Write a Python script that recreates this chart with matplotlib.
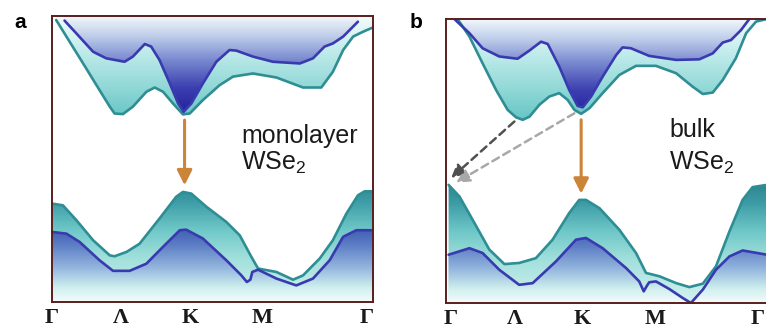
import numpy as np
import matplotlib
matplotlib.use("Agg")
import matplotlib.pyplot as plt
from matplotlib.colors import LinearSegmentedColormap

plt.rcParams["mathtext.fontset"] = "custom"
plt.rcParams["mathtext.rm"] = "Liberation Sans"
plt.rcParams["mathtext.it"] = "Liberation Sans:italic"

# ---------------- data (k along path 0..1, energy in arbitrary units 0..100) ----------------
# panel a: monolayer WSe2
a_cb_teal_k = [0.013, 0.045, 0.097, 0.148, 0.180, 0.195, 0.221, 0.252, 0.294, 0.320, 0.346, 0.377, 0.408,
               0.429, 0.470, 0.522, 0.564, 0.626, 0.699, 0.782, 0.839, 0.875, 0.907, 0.938, 0.969, 1.0]
a_cb_teal_E = [98.6, 92.8, 83.4, 74.1, 68.3, 65.9, 65.7, 68.3, 73.5, 75.0, 73.5, 69.4, 65.6,
               65.9, 70.6, 75.8, 78.8, 79.9, 78.5, 75.0, 75.0, 80.5, 88.1, 92.8, 94.5, 96.0]
a_cb_blue_k = [0.039, 0.076, 0.128, 0.169, 0.226, 0.252, 0.289, 0.309, 0.335, 0.367, 0.393, 0.410, 0.434,
               0.470, 0.512, 0.553, 0.574, 0.626, 0.688, 0.772, 0.813, 0.849, 0.875, 0.907, 0.953]
a_cb_blue_E = [98.4, 93.9, 87.5, 85.2, 84.0, 85.8, 90.2, 89.3, 84.6, 76.4, 69.4, 66.5, 69.4,
               76.4, 84.0, 88.1, 87.9, 85.8, 84.0, 83.4, 85.2, 89.3, 90.4, 92.8, 98.0]
a_vb_teal_k = [0.0, 0.034, 0.076, 0.128, 0.180, 0.195, 0.232, 0.273, 0.335, 0.387, 0.408, 0.434, 0.481,
               0.543, 0.585, 0.621, 0.642, 0.699, 0.751, 0.782, 0.834, 0.875, 0.917, 0.953, 0.974, 1.0]
a_vb_teal_E = [34.4, 33.8, 28.6, 21.6, 16.3, 16.0, 17.5, 20.4, 29.2, 36.8, 38.5, 37.9, 33.3,
               28.0, 23.3, 15.8, 11.7, 10.5, 7.8, 9.3, 15.2, 21.6, 30.9, 37.3, 38.7, 38.7]
a_vb_blue_k = [0.0, 0.045, 0.086, 0.148, 0.190, 0.242, 0.294, 0.346, 0.398, 0.418, 0.470, 0.543, 0.590,
               0.607, 0.618, 0.624, 0.642, 0.699, 0.761, 0.813, 0.865, 0.907, 0.948, 1.0]
a_vb_blue_E = [24.5, 23.9, 21.0, 14.6, 10.9, 10.9, 13.4, 19.3, 25.1, 25.3, 22.2, 14.6, 9.3,
               7.0, 7.8, 10.5, 11.3, 8.2, 5.8, 8.2, 14.6, 22.8, 25.1, 25.1]

# panel b: bulk WSe2
b_cb_teal_k = [0.036, 0.073, 0.114, 0.156, 0.192, 0.218, 0.239, 0.260, 0.291, 0.322, 0.353, 0.379, 0.400,
               0.421, 0.447, 0.488, 0.540, 0.592, 0.654, 0.717, 0.768, 0.800, 0.831, 0.862, 0.903, 0.935,
               0.966, 1.0]
b_cb_teal_E = [100.0, 93.8, 84.4, 75.0, 68.0, 65.4, 64.5, 65.6, 69.8, 72.7, 73.9, 71.5, 68.0,
               66.6, 68.6, 73.9, 80.3, 83.5, 83.5, 80.9, 76.2, 73.6, 74.1, 78.5, 86.2, 95.0,
               99.1, 100.0]
b_cb_blue_k = [0.026, 0.073, 0.114, 0.166, 0.223, 0.260, 0.296, 0.317, 0.353, 0.384, 0.410, 0.426, 0.452,
               0.488, 0.530, 0.550, 0.576, 0.633, 0.717, 0.789, 0.831, 0.862, 0.888, 0.919, 0.945]
b_cb_blue_E = [100.0, 95.0, 89.7, 86.8, 86.0, 88.9, 92.0, 91.2, 83.2, 75.0, 69.4, 68.9, 72.7,
               79.7, 87.3, 90.0, 89.7, 87.0, 85.6, 85.8, 87.9, 91.7, 92.6, 96.1, 100.0]
b_vb_teal_k = [0.008, 0.042, 0.083, 0.135, 0.182, 0.228, 0.280, 0.332, 0.384, 0.415, 0.436, 0.478, 0.540,
               0.592, 0.623, 0.665, 0.717, 0.758, 0.800, 0.841, 0.883, 0.924, 0.955, 1.0]
b_vb_teal_E = [41.6, 37.5, 29.3, 18.8, 13.7, 14.1, 15.8, 22.3, 31.7, 36.3, 36.3, 33.4, 25.8,
               17.6, 10.6, 9.4, 7.0, 5.6, 6.8, 12.9, 25.2, 36.3, 40.8, 41.6]
b_vb_blue_k = [0.008, 0.073, 0.114, 0.166, 0.228, 0.270, 0.343, 0.405, 0.436, 0.488, 0.561, 0.602, 0.616,
               0.625, 0.633, 0.654, 0.696, 0.737, 0.763, 0.800, 0.841, 0.883, 0.924, 1.0]
b_vb_blue_E = [17.0, 19.3, 17.6, 11.7, 6.4, 7.0, 14.7, 22.3, 22.9, 19.3, 12.3, 7.6, 4.1,
               5.9, 7.3, 7.6, 4.9, 1.8, 0.0, 4.7, 11.7, 16.4, 18.5, 17.0]

tick_labels = ["Γ", "Λ", "K", "M", "Γ"]
a_tick_k = [0.0, 0.215, 0.43, 0.654, 0.98]
b_tick_k = [0.016, 0.216, 0.423, 0.652, 0.972]

# ---------------- styles ----------------
TEAL = "#2e8e94"
BLUE = "#3a3ab0"
FRAME = "#5a1e1e"
ORANGE = "#cc8438"

cmap_cb_teal = LinearSegmentedColormap.from_list("cbt", [
    (0.0, "#5cc0c0"), (0.62, "#5cc0c0"), (0.75, "#8fd8d6"), (0.90, "#c8eeee"), (1.0, "#f4fbfb")])
cmap_cb_blue = LinearSegmentedColormap.from_list("cbb", [
    (0.0, "#201c96"), (0.65, "#201c96"), (0.75, "#3b3fb0"), (0.85, "#7a8ad0"), (0.93, "#bccbe9"),
    (1.0, "#f0f6fb")])
cmap_vb_teal = LinearSegmentedColormap.from_list("vbt", [
    (0.0, "#d4f2f0"), (0.15, "#a2e0dc"), (0.25, "#6fc8c8"), (0.35, "#3d9ca6"), (0.42, "#2d8590"),
    (1.0, "#2d8590")])
cmap_vb_blue = LinearSegmentedColormap.from_list("vbb", [
    (0.0, "#f4fbfb"), (0.05, "#cdeeee"), (0.12, "#92b4dd"), (0.20, "#5b7cc4"), (0.26, "#3e5cb2"),
    (1.0, "#3e5cb2")])

grad = np.linspace(0, 1, 400).reshape(-1, 1)


def grad_region(ax, k, E, to_top, cmap, z):
    if to_top:
        poly = ax.fill_between(k, E, 100, facecolor="none", edgecolor="none")
    else:
        poly = ax.fill_between(k, 0, E, facecolor="none", edgecolor="none")
    im = ax.imshow(grad, extent=[0, 1, 0, 100], origin="lower", aspect="auto",
                   cmap=cmap, zorder=z, interpolation="bilinear")
    im.set_clip_path(poly.get_paths()[0], transform=ax.transData)


def panel(ax, cbt, cbb, vbt, vbb, ticks):
    grad_region(ax, *cbt, True, cmap_cb_teal, 1)
    grad_region(ax, *cbb, True, cmap_cb_blue, 1.1)
    grad_region(ax, *vbt, False, cmap_vb_teal, 1)
    grad_region(ax, *vbb, False, cmap_vb_blue, 1.1)
    for (k, E), c in ((cbt, TEAL), (cbb, BLUE), (vbt, TEAL), (vbb, BLUE)):
        ax.plot(k, E, color=c, lw=1.9, solid_joinstyle="round", solid_capstyle="round", zorder=3)
    ax.set_xlim(0, 1)
    ax.set_ylim(0, 100)
    ax.set_yticks([])
    ax.set_xticks(ticks)
    ax.set_xticklabels(tick_labels, family="Liberation Serif", fontweight="bold", fontsize=16,
                       color="#1a1a1a")
    ax.tick_params(axis="x", length=0, pad=4)
    for s in ax.spines.values():
        s.set_color(FRAME)
        s.set_linewidth(1.4)
        s.set_zorder(5)


fig = plt.figure(figsize=(7.66, 3.33), dpi=100)
W, H = 766, 333
axA = fig.add_axes([52 / W, 1 - 302 / H, 321 / W, 286 / H])
axB = fig.add_axes([446 / W, 1 - 303 / H, 321 / W, 284 / H])

panel(axA, (a_cb_teal_k, a_cb_teal_E), (a_cb_blue_k, a_cb_blue_E),
      (a_vb_teal_k, a_vb_teal_E), (a_vb_blue_k, a_vb_blue_E), a_tick_k)
panel(axB, (b_cb_teal_k, b_cb_teal_E), (b_cb_blue_k, b_cb_blue_E),
      (b_vb_teal_k, b_vb_teal_E), (b_vb_blue_k, b_vb_blue_E), b_tick_k)

# arrows
arrow_style = "-|>,head_length=0.9,head_width=0.45"
axA.annotate("", xy=(0.413, 40.8), xytext=(0.413, 63.6),
             arrowprops=dict(arrowstyle=arrow_style, color=ORANGE, lw=2.2, shrinkA=0, shrinkB=0), zorder=4)
axB.annotate("", xy=(0.421, 38.5), xytext=(0.421, 64.5),
             arrowprops=dict(arrowstyle=arrow_style, color=ORANGE, lw=2.2, shrinkA=0, shrinkB=0), zorder=4)
axB.annotate("", xy=(0.016, 44.0), xytext=(0.213, 63.9),
             arrowprops=dict(arrowstyle="-|>,head_length=0.8,head_width=0.4", color="#505050", lw=1.8,
                             linestyle=(0, (3, 2)), shrinkA=0, shrinkB=0), zorder=4)
axB.annotate("", xy=(0.031, 42.4), xytext=(0.400, 66.8),
             arrowprops=dict(arrowstyle="-|>,head_length=0.8,head_width=0.4", color="#a8a8a8", lw=1.8,
                             linestyle=(0, (3, 2)), shrinkA=0, shrinkB=0), zorder=4)

# texts
tf = dict(family="Liberation Sans", fontsize=18, color="#1a1a1a", va="center", ha="left", zorder=6)
axA.text(0.59, 58.0, "monolayer", **tf)
axA.text(0.59, 48.5, "WSe$_2$", **tf)
axB.text(0.696, 61.0, "bulk", **tf)
axB.text(0.696, 49.5, "WSe$_2$", **tf)

fig.text(20 / W, 1 - 23 / H, "a", family="Liberation Sans", fontweight="bold", fontsize=15,
         ha="center", va="center")
fig.text(416 / W, 1 - 23 / H, "b", family="Liberation Sans", fontweight="bold", fontsize=15,
         ha="center", va="center")

fig.savefig("out.png", dpi=100)
